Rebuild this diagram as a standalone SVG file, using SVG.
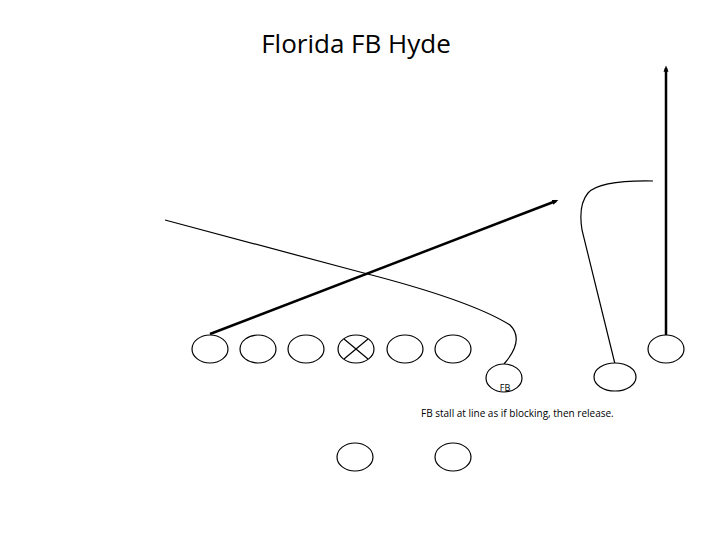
<svg xmlns="http://www.w3.org/2000/svg" width="720" height="540" viewBox="0 0 720 540">
<style>
.p{fill:#fff;stroke:#000;stroke-width:1.2}
.r{fill:none;stroke:#000;stroke-width:1.2}
.t{fill:none;stroke:#000;stroke-width:2.5}
text{font-family:"Open Sans","Liberation Sans",sans-serif;fill:#000}
</style>
<defs><marker id="a" markerWidth="3" markerHeight="3" refX="1.5" refY="1.5" orient="auto" markerUnits="strokeWidth"><path d="M0,0.5L2.5,1.5L0,2.5z" fill="#000"/></marker></defs>
<rect width="720" height="540" fill="#fff"/>
<text x="356" y="53" font-size="26" text-anchor="middle">Florida FB Hyde</text>
<g id="connectors">
<path class="r" d="M165,220 L360,272 Q470,300 510,325 Q525,340 504,364"/>
<line class="t" x1="210" y1="334" x2="556" y2="201" marker-end="url(#a)"/>
<path class="r" d="M653,181 Q600,180 588,193 Q578,205 582,230 L615,364"/>
<line class="t" x1="666" y1="335" x2="666" y2="68" marker-end="url(#a)"/>
</g>
<g id="n1"><ellipse class="p" cx="210" cy="349" rx="18" ry="14"/></g>
<g id="n2"><ellipse class="p" cx="258" cy="349" rx="18" ry="14"/></g>
<g id="n3"><ellipse class="p" cx="306" cy="349" rx="18" ry="14"/></g>
<g id="c"><ellipse class="p" cx="356" cy="349" rx="18" ry="14"/><path class="r" d="M344,339L368,359M368,339L344,359"/></g>
<g id="n5"><ellipse class="p" cx="405" cy="349" rx="18" ry="14"/></g>
<g id="n6"><ellipse class="p" cx="453" cy="349" rx="18" ry="14"/></g>
<g id="fb"><ellipse class="p" cx="504" cy="378" rx="18" ry="14"/><text x="505" y="391" font-size="9" text-anchor="middle">FB</text></g>
<g id="wr"><ellipse class="p" cx="615" cy="377" rx="21" ry="14"/></g>
<g id="wr2"><ellipse class="p" cx="666" cy="349" rx="18" ry="14"/></g>
<g id="b1"><ellipse class="p" cx="355" cy="457" rx="18" ry="14"/></g>
<g id="b2"><ellipse class="p" cx="453" cy="457" rx="18" ry="14"/></g>
<text x="421" y="417" font-size="10">FB stall at line as if blocking, then release.</text>
</svg>
